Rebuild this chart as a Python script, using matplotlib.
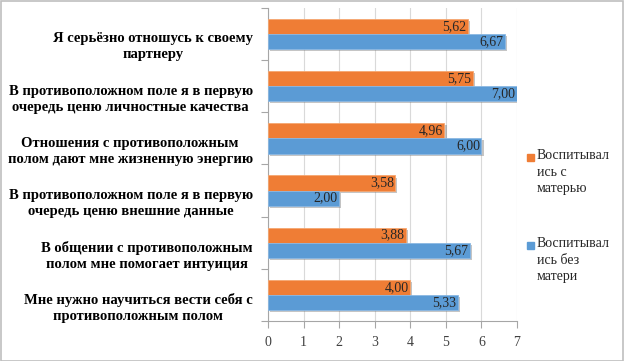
import matplotlib
matplotlib.use("Agg")
import matplotlib.pyplot as plt
from matplotlib.patches import Rectangle
import matplotlib.patheffects as pe
import numpy as np

categories = [
    "Я серьёзно отношусь к своему\nпартнеру",
    "В противоположном поле я в первую\nочередь ценю личностные качества",
    "Отношения с противоположным\nполом дают мне жизненную энергию",
    "В противоположном поле я в первую\nочередь ценю внешние данные",
    "В общении с противоположным\nполом мне помогает интуиция",
    "Мне нужно научиться вести себя с\nпротивоположным полом",
]
with_mother = [5.62, 5.75, 4.96, 3.58, 3.88, 4.00]
without_mother = [6.67, 7.00, 6.00, 2.00, 5.67, 5.33]
series_names = ["Воспитывал\nись с\nматерью", "Воспитывал\nись без\nматери"]
xticks = [0, 1, 2, 3, 4, 5, 6, 7]

orange = "#EF7D35"
blue = "#5B9BD5"

plt.rcParams['font.family'] = ['Liberation Serif', 'DejaVu Serif']

fig = plt.figure(figsize=(6.25, 3.61), dpi=100)
ax = fig.add_axes([268/625, 1-321/361, (517-268)/625, (321-8)/361])

n = len(categories)
ypos = np.arange(n)[::-1]  # top category at top
h = 0.29
shadow = [pe.SimplePatchShadow(offset=(1.5, -1.5), shadow_rgbFace='#7f7f7f', alpha=0.45), pe.Normal()]
b1 = ax.barh(ypos + h/2, with_mother, height=h, color=orange, edgecolor='#F5A771', linewidth=0.6, zorder=3)
b2 = ax.barh(ypos - h/2, without_mother, height=h, color=blue, edgecolor='#8BB8E3', linewidth=0.6, zorder=3)
for bar in list(b1) + list(b2):
    bar.set_path_effects(shadow)

for bars, vals in ((b1, with_mother), (b2, without_mother)):
    for bar, v in zip(bars, vals):
        ax.text(bar.get_width() - 0.04, bar.get_y() + bar.get_height()/2,
                f"{v:.2f}".replace('.', ','), ha='right', va='center',
                fontsize=10, color='#262626', zorder=4)

ax.set_xlim(0, 7)
ax.set_ylim(-0.5, n - 0.5)
ax.set_xticks(xticks)
ax.set_xticklabels([str(t) for t in xticks], fontsize=10, color='#404040')
# category labels sit slightly below the bar-group centres, as in the original
ax.set_yticks(ypos - 0.19)
ax.set_yticklabels(categories, fontsize=10.5, fontweight='bold', color='black',
                   linespacing=1.3, multialignment='center')
ax.set_yticks(np.arange(n + 1) - 0.5, minor=True)
ax.tick_params(axis='y', which='major', length=0, pad=11)
ax.tick_params(axis='y', which='minor', length=5, color='#a6a6a6', width=0.8)
ax.tick_params(axis='x', length=5, color='#a6a6a6', width=0.8, pad=6)
ax.grid(axis='x', color='#d9d9d9', linewidth=0.8, zorder=0)
for s in ['top', 'right']:
    ax.spines[s].set_visible(False)
ax.spines['left'].set_color('#a6a6a6')
ax.spines['bottom'].set_color('#a6a6a6')

# legend (manual)
for (yy, col, name) in ((157, orange, series_names[0]), (245, blue, series_names[1])):
    fig.patches.append(Rectangle((527/625, 1-(yy+3.5)/361), 7/625, 7/361,
                                 transform=fig.transFigure, color=col, figure=fig))
    fig.text(537/625, 1-(yy-8)/361, name, fontsize=10, color='#262626',
             va='top', ha='left', linespacing=1.35)

# outer frame
fig.patches.append(Rectangle((0.002, 0.0), 0.995, 0.996, transform=fig.transFigure,
                             fill=False, edgecolor='#bfbfbf', linewidth=1.2, figure=fig))

fig.savefig("out.png", dpi=100)
